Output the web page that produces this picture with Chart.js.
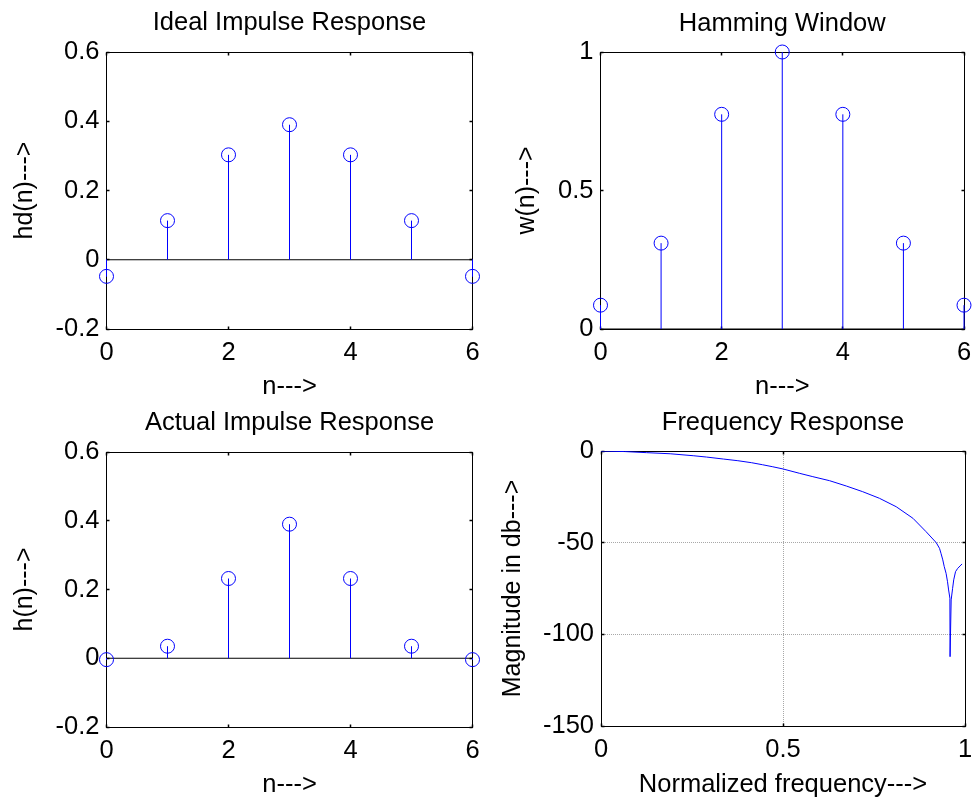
<!DOCTYPE html>
<html><head><meta charset="utf-8">
<script src="https://cdn.jsdelivr.net/npm/chart.js@4.4.1/dist/chart.umd.min.js"></script>
<style>
html,body{margin:0;padding:0;background:#fff;}
#wrap{position:relative;width:972px;height:802px;overflow:hidden;background:#fff}
canvas{position:absolute;display:block}
</style></head><body>
<div id="wrap">
<canvas id="c1" width="486" height="401" style="left:0;top:0"></canvas>
<canvas id="c2" width="486" height="401" style="left:486px;top:0"></canvas>
<canvas id="c3" width="486" height="401" style="left:0;top:401px"></canvas>
<canvas id="c4" width="486" height="401" style="left:486px;top:401px"></canvas>
</div>
<script>
// ---- data ----
const n = [0, 1, 2, 3, 4, 5, 6];
const hd = [-0.048, 0.113, 0.303, 0.39, 0.303, 0.113, -0.048];
const w = [0.086, 0.31, 0.775, 1.0, 0.775, 0.31, 0.086];
const h = [-0.004, 0.035, 0.232, 0.39, 0.232, 0.035, -0.004];
const freq = [0, 0.065, 0.125, 0.19, 0.255, 0.29, 0.337, 0.376, 0.414, 0.444, 0.472, 0.5,
  0.546, 0.582, 0.628, 0.674, 0.719, 0.765, 0.811, 0.857, 0.893, 0.921, 0.930, 0.934,
  0.939, 0.943, 0.948, 0.952, 0.955, 0.9585, 0.959, 0.962, 0.966, 0.969, 0.974, 0.980, 0.989, 0.992];
const magDb = [0, -0.3, -0.9, -1.5, -2.6, -3.3, -4.4, -5.3, -6.4, -7.5, -8.6, -9.8,
  -12.2, -14.0, -16.2, -19.1, -22.2, -25.8, -30.4, -36.7, -44.0, -50.0, -53.1, -55.8,
  -59.4, -63.1, -66.7, -71.3, -75.8, -80.3, -112.2, -81.2, -74.9, -70.3, -65.8, -64.0, -62.2, -61.6];

const nTicks = [0, 2, 4, 6];
const nTickLabels = ['0', '2', '4', '6'];
const hTicks = [-0.2, 0, 0.2, 0.4, 0.6];
const hTickLabels = ['-0.2', '0', '0.2', '0.4', '0.6'];
const wTicks = [0, 0.5, 1];
const wTickLabels = ['0', '0.5', '1'];
const fTicks = [0, 0.5, 1];
const fTickLabels = ['0', '0.5', '1'];
const dbTicks = [-150, -100, -50, 0];
const dbTickLabels = ['-150', '-100', '-50', '0'];

// ---- styling ----
Chart.defaults.font.family = "'Liberation Sans', Arial, Helvetica, sans-serif";
Chart.defaults.color = '#000';
const BLUE = '#0000ff';
const FS = 25.5;   // titles, tick labels, x labels
const FSY = 25;    // y axis labels

const boxPlugin = {
  id: 'matlabBox',
  beforeDatasetsDraw(chart) {
    const {ctx, chartArea: a, scales} = chart;
    const L = Math.floor(a.left) + 0.5, T = Math.floor(a.top) + 0.5;
    const R = Math.floor(a.right) + 0.5, B = Math.floor(a.bottom) + 0.5;
    ctx.save();
    ctx.strokeStyle = '#000';
    ctx.lineWidth = 1;
    ctx.strokeRect(L, T, R - L, B - T);
    ctx.lineWidth = 1.5;
    const len = 3;
    ctx.beginPath();
    scales.x.ticks.forEach(t => {
      const px = Math.floor(scales.x.getPixelForValue(t.value)) + 0.5;
      ctx.moveTo(px, B); ctx.lineTo(px, B - len);
      ctx.moveTo(px, T); ctx.lineTo(px, T + len);
    });
    scales.y.ticks.forEach(t => {
      const py = Math.floor(scales.y.getPixelForValue(t.value)) + 0.5;
      ctx.moveTo(L, py); ctx.lineTo(L + len, py);
      ctx.moveTo(R, py); ctx.lineTo(R - len, py);
    });
    ctx.stroke();
    ctx.restore();
  }
};

function makeOptions(p) {
  return {
    responsive: false,
    animation: false,
    events: [],
    layout: {padding: {left: 0, top: 0, right: p.padR, bottom: 0}},
    plugins: {
      legend: {display: false},
      tooltip: {enabled: false},
      title: {
        display: true, text: p.title, color: '#000', fullSize: false, align: 'center',
        font: {size: FS, weight: 'normal', lineHeight: 1},
        padding: {top: p.tTop, bottom: p.tBot}
      }
    },
    scales: {
      x: {
        type: 'linear', min: p.xMin, max: p.xMax,
        grid: {display: !!p.grid, drawTicks: false, color: '#a8a8a8', lineWidth: 1},
        border: {display: false, dash: [1, 1]},
        ticks: {font: {size: FS, lineHeight: 1}, padding: 11.5, autoSkip: false, maxRotation: 0,
          callback: (v, i) => p.xLabels[i]},
        afterBuildTicks: s => { s.ticks = p.xTicks.map(v => ({value: v})); },
        afterFit: s => { s.height = p.xH; s.paddingLeft = 0; s.paddingRight = 0; },
        title: {display: true, text: p.xTitle, font: {size: FS, lineHeight: 1},
          padding: {top: 0, bottom: p.xTitleBot}}
      },
      y: {
        type: 'linear', min: p.yMin, max: p.yMax,
        grid: {display: !!p.grid, drawTicks: false, color: '#a8a8a8', lineWidth: 1},
        border: {display: false, dash: [1, 1]},
        ticks: {font: {size: FS, lineHeight: 1}, padding: 7, autoSkip: false,
          callback: (v, i) => p.yLabels[i]},
        afterBuildTicks: s => { s.ticks = p.yTicks.map(v => ({value: v})); },
        afterFit: s => { s.width = p.yW; s.paddingTop = 0; s.paddingBottom = 0; },
        title: {display: true, text: p.yTitle, font: {size: FSY, lineHeight: 1},
          padding: {top: p.yTitleTop, bottom: 0}}
      }
    }
  };
}

function stemDatasets(xs, ys) {
  const stems = [];
  xs.forEach((x, i) => {
    stems.push({x: x, y: 0}, {x: x, y: ys[i]}, {x: x, y: null});
  });
  return [
    { type: 'line', data: xs.map((x, i) => ({x: x, y: ys[i]})), showLine: false,
      pointStyle: 'circle', pointRadius: 7, pointBorderWidth: 1,
      pointBorderColor: BLUE, pointBackgroundColor: 'rgba(0,0,0,0)', clip: false },
    { type: 'line', data: stems, borderColor: BLUE, borderWidth: 1, pointRadius: 0,
      spanGaps: false, clip: false },
    { type: 'line', data: [{x: xs[0], y: 0}, {x: xs[xs.length - 1], y: 0}],
      borderColor: '#000', borderWidth: 1, pointRadius: 0, clip: false }
  ];
}

new Chart(document.getElementById('c1'), {
  type: 'line',
  data: {datasets: stemDatasets(n, hd)},
  options: makeOptions({title: 'Ideal Impulse Response', xTitle: 'n--->', yTitle: 'hd(n)--->',
    xMin: 0, xMax: 6, yMin: -0.2, yMax: 0.6, xTicks: nTicks, xLabels: nTickLabels,
    yTicks: hTicks, yLabels: hTickLabels, padR: 13.5, yW: 106.5, tTop: 10.45, tBot: 16.05,
    xH: 72, xTitleBot: 1.25, yTitleTop: 12.5}),
  plugins: [boxPlugin]
});

new Chart(document.getElementById('c2'), {
  type: 'line',
  data: {datasets: stemDatasets(n, w)},
  options: makeOptions({title: 'Hamming Window', xTitle: 'n--->', yTitle: 'w(n)--->',
    xMin: 0, xMax: 6, yMin: 0, yMax: 1, xTicks: nTicks, xLabels: nTickLabels,
    yTicks: wTicks, yLabels: wTickLabels, padR: 5.5, yW: 114.5, tTop: 10.95, tBot: 15.55,
    xH: 72, xTitleBot: 1.25, yTitleTop: 28.2}),
  plugins: [boxPlugin]
});

new Chart(document.getElementById('c3'), {
  type: 'line',
  data: {datasets: stemDatasets(n, h)},
  options: makeOptions({title: 'Actual Impulse Response', xTitle: 'n--->', yTitle: 'h(n)--->',
    xMin: 0, xMax: 6, yMin: -0.2, yMax: 0.6, xTicks: nTicks, xLabels: nTickLabels,
    yTicks: hTicks, yLabels: hTickLabels, padR: 13.5, yW: 106.5, tTop: 8.75, tBot: 16.75,
    xH: 75, xTitleBot: 4.25, yTitleTop: 12.5}),
  plugins: [boxPlugin]
});

new Chart(document.getElementById('c4'), {
  type: 'line',
  data: {datasets: [{
    data: freq.map((f, i) => ({x: f, y: magDb[i]})),
    borderColor: BLUE, borderWidth: 1, pointRadius: 0, tension: 0
  }]},
  options: makeOptions({title: 'Frequency Response', xTitle: 'Normalized frequency--->',
    yTitle: 'Magnitude in db--->', xMin: 0, xMax: 1, yMin: -150, yMax: 0,
    xTicks: fTicks, xLabels: fTickLabels, yTicks: dbTicks, yLabels: dbTickLabels,
    padR: 7, yW: 115, tTop: 9.55, tBot: 14.95, xH: 76, xTitleBot: 4.55, yTitleTop: 14.9, grid: true}),
  plugins: [boxPlugin]
});
</script>
</body></html>
